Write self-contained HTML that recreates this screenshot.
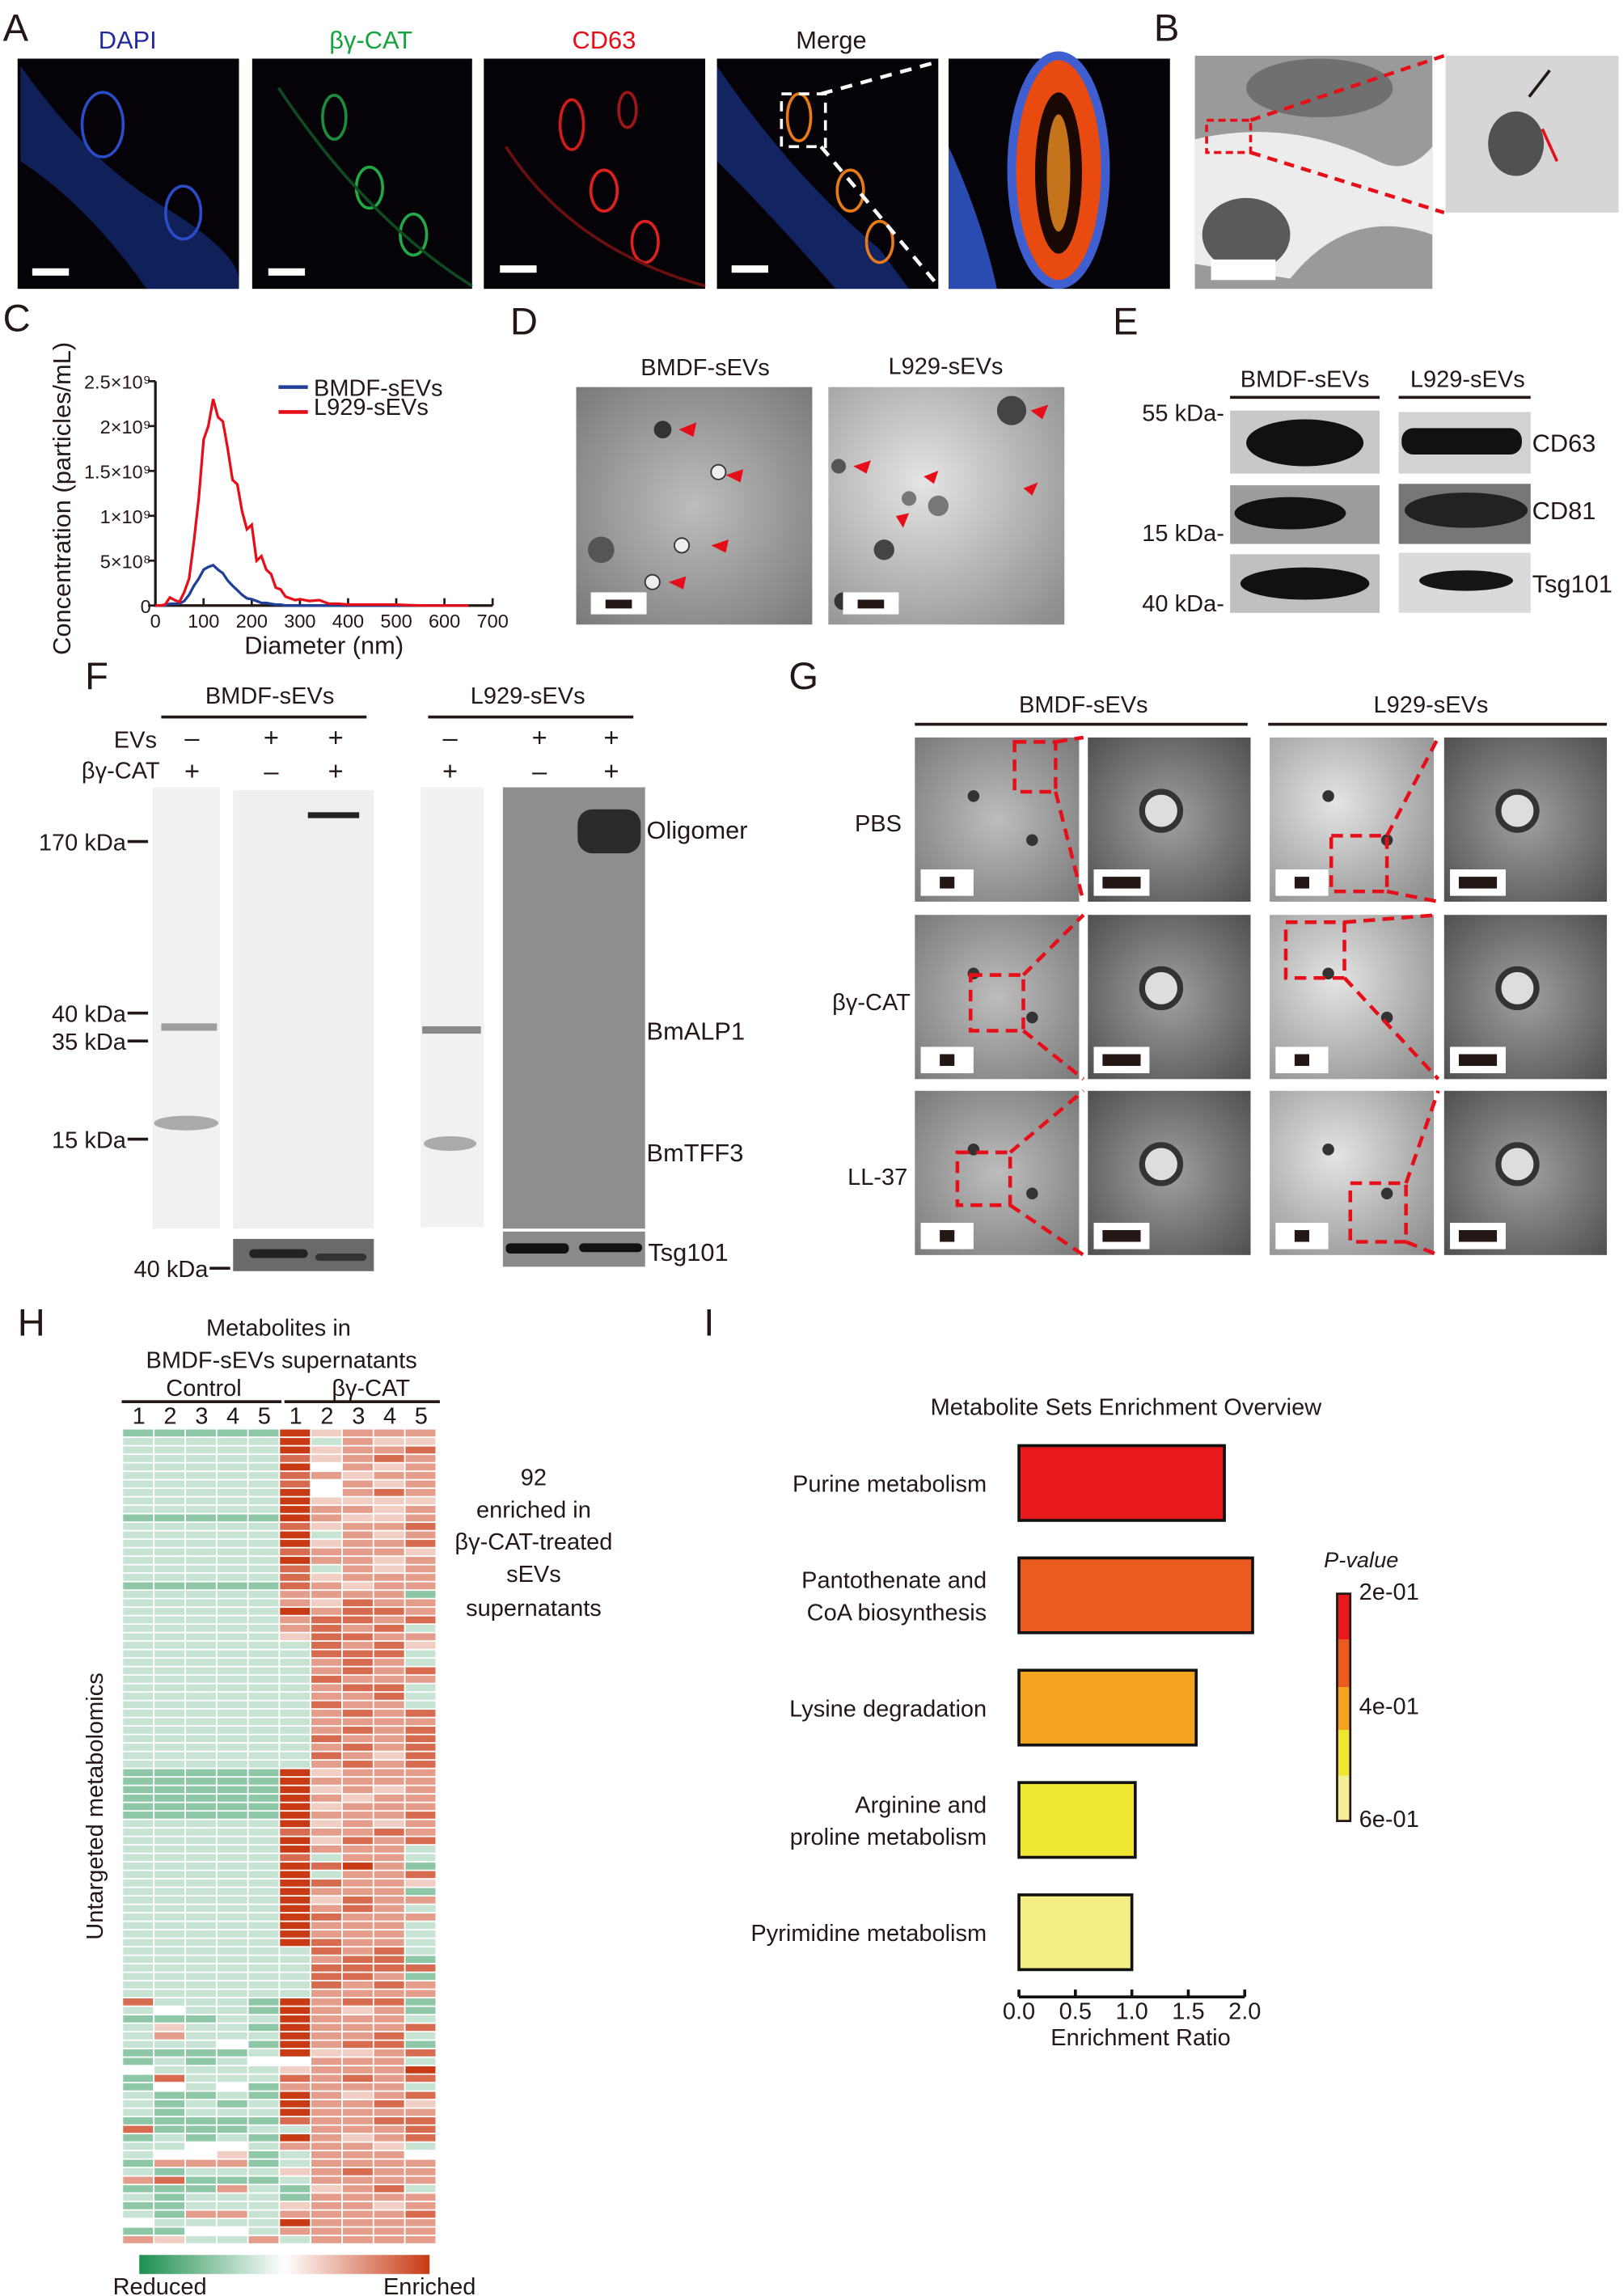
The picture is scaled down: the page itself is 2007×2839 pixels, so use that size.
<!DOCTYPE html>
<html><head><meta charset="utf-8"><style>
html,body{margin:0;padding:0;background:#fff}
svg{display:block}
text{font-family:"Liberation Sans","DejaVu Sans",sans-serif;fill:#231815}
</style></head><body>
<svg id="fig" width="2007" height="2839" viewBox="0 0 1107 1566" preserveAspectRatio="none" xmlns="http://www.w3.org/2000/svg">
<defs>
<radialGradient id="emA" cx="50%" cy="50%" r="70%"><stop offset="0" stop-color="#bdbdbd"/><stop offset="1" stop-color="#7a7a7a"/></radialGradient>
<radialGradient id="emB" cx="40%" cy="40%" r="80%"><stop offset="0" stop-color="#e4e4e4"/><stop offset="1" stop-color="#8d8d8d"/></radialGradient>
<radialGradient id="emC" cx="50%" cy="50%" r="75%"><stop offset="0" stop-color="#a0a0a0"/><stop offset="1" stop-color="#4a4a4a"/></radialGradient>
<linearGradient id="hmbar" x1="0" x2="1"><stop offset="0" stop-color="#1d8f4e"/><stop offset="0.5" stop-color="#ffffff"/><stop offset="1" stop-color="#c83a14"/></linearGradient>
<linearGradient id="pbar" x1="0" y1="0" x2="0" y2="1"><stop offset="0" stop-color="#e8191c"/><stop offset="0.2" stop-color="#e8191c"/><stop offset="0.2" stop-color="#eb5a1e"/><stop offset="0.41" stop-color="#eb5a1e"/><stop offset="0.41" stop-color="#f3a31f"/><stop offset="0.6" stop-color="#f3a31f"/><stop offset="0.6" stop-color="#efe633"/><stop offset="0.8" stop-color="#efe633"/><stop offset="0.8" stop-color="#f5ee94"/><stop offset="1" stop-color="#f5ee94"/></linearGradient>
</defs>

<!-- Panel A -->
<g>
<text x="2" y="28" font-size="26">A</text>
<text x="87" y="33" font-size="17" text-anchor="middle" style="fill:#1f2a9c">DAPI</text>
<text x="253" y="33" font-size="17" text-anchor="middle" style="fill:#13a43c">βγ-CAT</text>
<text x="412" y="33" font-size="17" text-anchor="middle" style="fill:#e60f19">CD63</text>
<text x="567" y="33" font-size="17" text-anchor="middle">Merge</text>
<g><rect x="12" y="40" width="151" height="157" fill="#050308"/>
<path d="M14 45 Q60 110 110 140 T163 190 L163 197 L100 197 Q60 140 14 110Z" fill="#1a3a9c" opacity="0.55"/>
<ellipse cx="70" cy="85" rx="14" ry="22" fill="none" stroke="#2b4cc9" stroke-width="2"/><ellipse cx="125" cy="145" rx="12" ry="18" fill="none" stroke="#2b4cc9" stroke-width="2"/>
<rect x="22" y="183" width="25" height="5" fill="#fff"/></g>
<g><rect x="172" y="40" width="150" height="157" fill="#050308"/>
<ellipse cx="228" cy="80" rx="8" ry="15" fill="none" stroke="#1d8c3c" stroke-width="2"/><ellipse cx="252" cy="128" rx="9" ry="14" fill="none" stroke="#22a844" stroke-width="2"/><ellipse cx="282" cy="160" rx="9" ry="14" fill="none" stroke="#22a844" stroke-width="2"/>
<path d="M190 60 Q250 150 322 195" stroke="#0f4a20" fill="none" stroke-width="2"/>
<rect x="183" y="183" width="25" height="5" fill="#fff"/></g>
<g><rect x="330" y="40" width="151" height="157" fill="#050308"/>
<ellipse cx="390" cy="85" rx="8" ry="17" fill="none" stroke="#d41a1a" stroke-width="2"/><ellipse cx="412" cy="130" rx="9" ry="14" fill="none" stroke="#e02020" stroke-width="2"/><ellipse cx="440" cy="165" rx="9" ry="14" fill="none" stroke="#e02020" stroke-width="2"/><ellipse cx="428" cy="75" rx="6" ry="12" fill="none" stroke="#a01515" stroke-width="2"/>
<path d="M345 100 Q390 170 481 195" stroke="#6a1010" fill="none" stroke-width="2"/>
<rect x="341" y="181" width="25" height="5" fill="#fff"/></g>
<g><rect x="489" y="40" width="151" height="157" fill="#050308"/>
<path d="M489 45 Q540 120 600 170 L620 197 L570 197 Q520 140 489 110Z" fill="#1a3a9c" opacity="0.6"/>
<ellipse cx="545" cy="80" rx="8" ry="16" fill="none" stroke="#e87a1a" stroke-width="2"/><ellipse cx="580" cy="130" rx="9" ry="14" fill="none" stroke="#e87a1a" stroke-width="2"/><ellipse cx="600" cy="165" rx="9" ry="14" fill="none" stroke="#e87a1a" stroke-width="2"/>
<rect x="533" y="64" width="30" height="36" fill="none" stroke="#fff" stroke-width="2" stroke-dasharray="7 5"/>
<line x1="560" y1="64" x2="640" y2="42" stroke="#fff" stroke-width="2.5" stroke-dasharray="8 6"/><line x1="560" y1="100" x2="640" y2="195" stroke="#fff" stroke-width="2.5" stroke-dasharray="8 6"/>
<rect x="499" y="181" width="25" height="5" fill="#fff"/></g>
<g><rect x="647" y="40" width="151" height="157" fill="#050308"/>
<path d="M647 100 Q670 150 680 197 L647 197Z" fill="#2a4bb0"/>
<ellipse cx="722" cy="116" rx="32" ry="78" fill="#e84a10" stroke="#3f5fd0" stroke-width="6"/>
<ellipse cx="722" cy="118" rx="16" ry="55" fill="#1a0805"/>
<ellipse cx="722" cy="118" rx="8" ry="40" fill="#f09020" opacity="0.8"/></g>
</g>

<!-- Panel B -->
<g>
<text x="787" y="28" font-size="26">B</text>
<g><rect x="815" y="38" width="162" height="159" fill="#9a9a9a"/>
<path d="M815 95 Q880 80 940 110 Q960 120 977 100 L977 160 Q920 140 880 190 L815 180Z" fill="#ececec"/>
<ellipse cx="850" cy="160" rx="30" ry="25" fill="#5a5a5a"/><ellipse cx="900" cy="60" rx="50" ry="20" fill="#707070"/>
<rect x="826" y="177" width="44" height="14" fill="#fff"/>
<rect x="823" y="82" width="30" height="22" fill="none" stroke="#e60f19" stroke-width="2" stroke-dasharray="5 3"/>
<line x1="853" y1="82" x2="985" y2="38" stroke="#e60f19" stroke-width="2.5" stroke-dasharray="7 5"/><line x1="853" y1="104" x2="985" y2="145" stroke="#e60f19" stroke-width="2.5" stroke-dasharray="7 5"/></g>
<g><rect x="986" y="38" width="118" height="107" fill="#d6d6d6"/>
<ellipse cx="1034" cy="98" rx="19" ry="22" fill="#3a3a3a" opacity="0.85"/>
<line x1="1057" y1="48" x2="1043" y2="66" stroke="#231815" stroke-width="2"/><line x1="1062" y1="110" x2="1052" y2="88" stroke="#e60f19" stroke-width="2"/></g>
</g>

<!-- Panel C -->
<g id="chartC">
<text x="2" y="226" font-size="26">C</text>
<text transform="translate(48,340) rotate(-90)" font-size="17" text-anchor="middle">Concentration (particles/mL)</text>
<text x="221" y="446" font-size="17" text-anchor="middle">Diameter (nm)</text>
<line x1="190" y1="264" x2="210" y2="264" stroke="#1f3f99" stroke-width="2.5"/>
<text x="214" y="270" font-size="16">BMDF-sEVs</text>
<line x1="190" y1="281" x2="210" y2="281" stroke="#e60f19" stroke-width="2.5"/>
<text x="214" y="283" font-size="16">L929-sEVs</text>
</g>

<!-- Panel D -->
<g>
<text x="348" y="228" font-size="26">D</text>
<text x="481" y="256" font-size="16" text-anchor="middle">BMDF-sEVs</text>
<text x="645" y="255" font-size="16" text-anchor="middle">L929-sEVs</text>
<g><rect x="393" y="264" width="161" height="162" fill="url(#emA)"/>
<circle cx="452" cy="293" r="6" fill="#333"/><circle cx="490" cy="322" r="5" fill="#eee" stroke="#333"/><circle cx="465" cy="372" r="5" fill="#eee" stroke="#333"/><circle cx="445" cy="397" r="5" fill="#eee" stroke="#333"/><circle cx="410" cy="375" r="9" fill="#555"/>
<path d="M475 288 l-12 5 l10 5z M507 320 l-12 4 l10 5z M497 368 l-12 4 l10 5z M468 393 l-12 4 l10 5z" fill="#e60f19"/>
<rect x="403" y="404" width="38" height="15" fill="#fff"/><rect x="413" y="409" width="18" height="6" fill="#231815"/></g>
<g><rect x="565" y="264" width="161" height="162" fill="url(#emB)"/>
<circle cx="690" cy="280" r="10" fill="#444"/><circle cx="572" cy="318" r="5" fill="#555"/><circle cx="620" cy="340" r="5" fill="#777"/><circle cx="640" cy="345" r="7" fill="#777"/><circle cx="603" cy="375" r="7" fill="#444"/><circle cx="575" cy="410" r="6" fill="#333"/>
<path d="M703 280 l12 -4 l-4 10z M582 318 l12 -4 l-3 9z M630 325 l10 -4 l-3 9z M620 350 l-4 10 l-5 -8z M698 333 l10 -4 l-4 9z" fill="#e60f19"/>
<rect x="575" y="404" width="38" height="15" fill="#fff"/><rect x="585" y="409" width="18" height="6" fill="#231815"/></g>
</g>

<!-- Panel E -->
<g>
<text x="759" y="228" font-size="26">E</text>
<text x="890" y="264" font-size="16" text-anchor="middle">BMDF-sEVs</text>
<text x="1001" y="264" font-size="16" text-anchor="middle">L929-sEVs</text>
<line x1="839" y1="271" x2="941" y2="271" stroke="#231815" stroke-width="2"/><line x1="954" y1="271" x2="1044" y2="271" stroke="#231815" stroke-width="2"/>
<text x="835" y="287" font-size="16" text-anchor="end">55 kDa-</text>
<text x="835" y="369" font-size="16" text-anchor="end">15 kDa-</text>
<text x="835" y="417" font-size="16" text-anchor="end">40 kDa-</text>
<g>
<rect x="839" y="280" width="102" height="43" fill="#c8c8c8"/><ellipse cx="890" cy="302" rx="40" ry="16" fill="#111"/>
<rect x="954" y="281" width="90" height="42" fill="#d2d2d2"/><rect x="956" y="292" width="82" height="18" rx="8" fill="#111"/>
<rect x="839" y="331" width="102" height="40" fill="#9c9c9c"/><ellipse cx="880" cy="350" rx="38" ry="11" fill="#111"/>
<rect x="954" y="330" width="90" height="41" fill="#777"/><ellipse cx="1000" cy="348" rx="42" ry="12" fill="#222"/>
<rect x="839" y="378" width="102" height="40" fill="#c0c0c0"/><ellipse cx="890" cy="398" rx="44" ry="11" fill="#111"/>
<rect x="954" y="377" width="90" height="41" fill="#dadada"/><ellipse cx="1000" cy="396" rx="32" ry="7" fill="#151515"/>
</g>
<text x="1045" y="308" font-size="17">CD63</text>
<text x="1045" y="354" font-size="17">CD81</text>
<text x="1045" y="404" font-size="17">Tsg101</text>
</g>

<!-- Panel F -->
<g>
<text x="58" y="470" font-size="26">F</text>
<text x="184" y="480" font-size="16" text-anchor="middle">BMDF-sEVs</text>
<text x="360" y="480" font-size="16" text-anchor="middle">L929-sEVs</text>
<line x1="110" y1="489" x2="250" y2="489" stroke="#231815" stroke-width="2"/><line x1="292" y1="489" x2="432" y2="489" stroke="#231815" stroke-width="2"/>
<text x="107" y="510" font-size="16" text-anchor="end">EVs</text>
<text x="109" y="531" font-size="16" text-anchor="end">βγ-CAT</text>
<g font-size="18" text-anchor="middle">
<text x="131" y="509">–</text><text x="185" y="509">+</text><text x="229" y="509">+</text><text x="307" y="509">–</text><text x="368" y="509">+</text><text x="417" y="509">+</text>
<text x="131" y="532">+</text><text x="185" y="532">–</text><text x="229" y="532">+</text><text x="307" y="532">+</text><text x="368" y="532">–</text><text x="417" y="532">+</text>
</g>
<g>
<rect x="104" y="537" width="46" height="301" fill="#f1f1f1"/><rect x="110" y="698" width="38" height="5" fill="#888" opacity="0.8"/><ellipse cx="127" cy="766" rx="22" ry="5" fill="#aaa"/>
<rect x="159" y="539" width="96" height="299" fill="#efefef"/><rect x="210" y="554" width="35" height="4" fill="#222"/>
<rect x="287" y="537" width="43" height="300" fill="#f1f1f1"/><rect x="288" y="700" width="40" height="5" fill="#888"/><ellipse cx="307" cy="780" rx="18" ry="5" fill="#aaa"/>
<rect x="343" y="537" width="97" height="301" fill="#8e8e8e"/><rect x="394" y="552" width="43" height="30" rx="10" fill="#2a2a2a"/>
<rect x="159" y="845" width="96" height="22" fill="#6a6a6a"/><rect x="170" y="852" width="40" height="6" rx="3" fill="#222"/><rect x="215" y="855" width="35" height="5" rx="3" fill="#333"/>
<rect x="343" y="840" width="97" height="24" fill="#8a8a8a"/><rect x="345" y="848" width="43" height="7" rx="3" fill="#111"/><rect x="395" y="848" width="43" height="6" rx="3" fill="#111"/>
</g>
<text x="86" y="580" font-size="16" text-anchor="end">170 kDa</text><line x1="87" y1="574" x2="101" y2="574" stroke="#231815" stroke-width="2"/>
<text x="86" y="697" font-size="16" text-anchor="end">40 kDa</text><line x1="87" y1="691" x2="101" y2="691" stroke="#231815" stroke-width="2"/>
<text x="86" y="716" font-size="16" text-anchor="end">35 kDa</text><line x1="87" y1="710" x2="101" y2="710" stroke="#231815" stroke-width="2"/>
<text x="86" y="783" font-size="16" text-anchor="end">15 kDa</text><line x1="87" y1="777" x2="101" y2="777" stroke="#231815" stroke-width="2"/>
<text x="142" y="871" font-size="16" text-anchor="end">40 kDa</text><line x1="143" y1="865" x2="157" y2="865" stroke="#231815" stroke-width="2"/>
<text x="441" y="572" font-size="17">Oligomer</text>
<text x="441" y="709" font-size="17">BmALP1</text>
<text x="441" y="792" font-size="17">BmTFF3</text>
<text x="442" y="860" font-size="17">Tsg101</text>
</g>

<!-- Panel G -->
<g id="panelG">
<text x="538" y="470" font-size="26">G</text>
<text x="739" y="486" font-size="16" text-anchor="middle">BMDF-sEVs</text>
<text x="976" y="486" font-size="16" text-anchor="middle">L929-sEVs</text>
<line x1="624" y1="494" x2="851" y2="494" stroke="#231815" stroke-width="2"/><line x1="865" y1="494" x2="1096" y2="494" stroke="#231815" stroke-width="2"/>
<text x="615" y="567" font-size="16" text-anchor="end">PBS</text>
<text x="621" y="689" font-size="16" text-anchor="end">βγ-CAT</text>
<text x="619" y="808" font-size="16" text-anchor="end">LL-37</text>
</g>

<!-- Panel H -->
<g id="panelH">
<text x="12" y="911" font-size="26">H</text>
<text x="190" y="911" font-size="16" text-anchor="middle">Metabolites in</text>
<text x="192" y="933" font-size="16" text-anchor="middle">BMDF-sEVs supernatants</text>
<text x="139" y="952" font-size="16" text-anchor="middle">Control</text>
<text x="253" y="952" font-size="16" text-anchor="middle">βγ-CAT</text>
<line x1="83" y1="956" x2="192" y2="956" stroke="#231815" stroke-width="2"/><line x1="194" y1="956" x2="300" y2="956" stroke="#231815" stroke-width="2"/>
<text transform="translate(70,1232) rotate(-90)" font-size="16" text-anchor="middle">Untargeted metabolomics</text>
<g font-size="16" text-anchor="middle">
<text x="364" y="1013">92</text><text x="364" y="1035">enriched in</text><text x="364" y="1057">βγ-CAT-treated</text><text x="364" y="1079">sEVs</text><text x="364" y="1102">supernatants</text></g>
<rect x="95" y="1538" width="198" height="13" fill="url(#hmbar)"/>
<text x="109" y="1565" font-size="16" text-anchor="middle">Reduced</text>
<text x="293" y="1565" font-size="16" text-anchor="middle">Enriched</text>
</g>

<!-- Panel I -->
<g id="panelI">
<text x="480" y="911" font-size="26">I</text>
<text x="768" y="965" font-size="16" text-anchor="middle">Metabolite Sets Enrichment Overview</text>
<text x="778" y="1395" font-size="16" text-anchor="middle">Enrichment Ratio</text>
<text x="903" y="1069" font-size="15" font-style="italic">P-value</text>
<rect x="912" y="1087" width="9" height="155" fill="url(#pbar)" stroke="#231815" stroke-width="1.5"/>
<text x="927" y="1091" font-size="16">2e-01</text>
<text x="927" y="1169" font-size="16">4e-01</text>
<text x="927" y="1246" font-size="16">6e-01</text>
</g>
</svg>
<script>
// ---------- Panel C data ----------
var cDiam = [0,10,20,30,40,50,60,70,80,90,100,110,120,130,140,150,160,170,180,190,200,210,220,230,240,250,260,270,280,290,300,320,340,360,380,400,450,500,550,600,650];
var cL929 = [0,0,0.01,0.09,0.06,0.04,0.15,0.3,0.72,1.2,1.85,2.0,2.3,2.1,2.05,1.75,1.4,1.35,1.05,0.85,0.9,0.5,0.55,0.4,0.35,0.2,0.18,0.1,0.08,0.06,0.07,0.05,0.06,0.02,0.02,0.01,0.01,0.01,0,0,0];
var cBMDF = [0,0,0,0.02,0.02,0.02,0.05,0.12,0.22,0.3,0.4,0.43,0.45,0.4,0.36,0.28,0.22,0.17,0.12,0.08,0.07,0.05,0.03,0.03,0.02,0.01,0.01,0,0,0,0,0,0,0,0,0,0,0,0,0,0];
var cYTicks = [0,0.5,1,1.5,2,2.5];
var cYLabels = ["0","5×10⁸","1×10⁹","1.5×10⁹","2×10⁹","2.5×10⁹"];
var cXTicks = [0,100,200,300,400,500,600,700];

// ---------- Panel I data ----------
var iCats = [["Purine metabolism"],["Pantothenate and","CoA biosynthesis"],["Lysine degradation"],["Arginine and","proline metabolism"],["Pyrimidine metabolism"]];
var iRatio = [1.82,2.07,1.57,1.03,1.0];
var iPval = [0.2,0.3,0.4,0.5,0.6];
var iXTicks = [0,0.5,1.0,1.5,2.0];

// ---------- Panel H data (digit 0=strong green, 4=white, 8=strong red) ----------
var hRows = [
"2222285666","3333383655","3333385667","3333375676","3333384656",
"3333376566","3333374656","3333384676","3333385555","3333386656",
"2222286556","3333375667","3333383656","3333385667","3333376665",
"3333386656","3333373656","3333375666","2222276566","3333366662",
"3333365766","3333386776","3333367767","3333367673","3333357766",
"3333337675","3333337773","3333336763","3333336767","3333337666",
"3333336773","3333336673","3333337663","3333336767","3333336666",
"3333336767","3333337667","3333336767","3333337657","3333336767",
"2222285666","2222286666","2222285656","2222286566","2222285666",
"2222286667","3333385656","3333376676","3333385767","3333386663",
"3333373663","3333387862","3333383667","3333387665","3333386662",
"3333385766","3333386763","3333387666","3333386663","3333386663",
"3333387663","3333337673","3333336772","3333337777","3333337762",
"3333337676","3333336666","7333286772","3433286562","2223386663",
"3533286667","3633386673","3334286772","2222385567","2323446663",
"4333356668","2733376767","2434266663","3223286567","3232386675",
"3233386666","2222276677","7222336667","2323286567","3344366653",
"3445236664","2666236666","3233356766","6722236666","2226325673",
"3233326666","2233356656","3266366667","4333386666","2244366666",
"6533636666"
];
</script>
<script>
(function(){
var NS="http://www.w3.org/2000/svg";
function mk(tag,attrs,parent){var e=document.createElementNS(NS,tag);for(var k in attrs)e.setAttribute(k,attrs[k]);parent.appendChild(e);return e;}

// ----- Chart C -----
var gC=document.getElementById('chartC');
var cx0=106,cx1=336,cy0=413,cy1=260;
function cX(v){return cx0+(v/700)*(cx1-cx0);}
function cY(v){return cy0-(v/2.5)*(cy0-cy1);}
var ax=mk('path',{d:'M'+cx0+' '+cY(2.5)+' L'+cx0+' '+cy0+' L'+cx1+' '+cy0,stroke:'#231815','stroke-width':1.8,fill:'none'},gC);


cYTicks.forEach(function(t,i){
  mk('line',{x1:cx0-5,x2:cx0,y1:cY(t),y2:cY(t),stroke:'#231815','stroke-width':1.5},gC);
  var tx=mk('text',{x:cx0-3,y:cY(t)+5,'font-size':13,'text-anchor':'end'},gC);
  tx.textContent=cYLabels[i];
  
  
});
cXTicks.forEach(function(t){
  mk('line',{x1:cX(t),x2:cX(t),y1:cy0-5,y2:cy0,stroke:'#231815','stroke-width':1.5},gC);
  var tx=mk('text',{x:cX(t),y:cy0+15,'font-size':13,'text-anchor':'middle'},gC);
  tx.textContent=String(t);
  
  
});
function line(vals,col,name){
  var d=vals.map(function(v,i){return (i?'L':'M')+cX(cDiam[i]).toFixed(1)+' '+cY(v).toFixed(1);}).join(' ');
  var p=mk('path',{d:d,stroke:col,'stroke-width':1.8,fill:'none'},gC);
  
  
}
line(cBMDF,'#1f3f99','bmdf-line');
line(cL929,'#e60f19','l929-line');

// ----- Panel G images -----
var gG=document.getElementById('panelG');
var cols=[[624,112,'emA'],[742,111,'emC'],[866,112,'emB'],[985,111,'emC']];
var rows=[503,624,744];
rows.forEach(function(ry,ri){cols.forEach(function(c,ci){
  var r=mk('rect',{x:c[0],y:ry,width:c[1],height:112,fill:'url(#'+c[2]+')'},gG);
  
  
  if(ci%2==1){mk('circle',{cx:c[0]+50,cy:ry+50,r:13,fill:'#ddd',stroke:'#333','stroke-width':4},gG);}
  else{mk('circle',{cx:c[0]+40,cy:ry+40,r:4,fill:'#333'},gG);mk('circle',{cx:c[0]+80,cy:ry+70,r:4,fill:'#333'},gG);}
  mk('rect',{x:c[0]+4,y:ry+90,width:ci%2?38:36,height:18,fill:'#fff'},gG);
  mk('rect',{x:c[0]+(ci%2?10:17),y:ry+95,width:ci%2?26:10,height:8,fill:'#231815'},gG);
});});
var boxes=[[692,506,28,34],[908,570,38,38],[662,665,36,38],[877,629,40,38],[653,786,36,36],[921,807,38,40]];
boxes.forEach(function(b,i){
  mk('rect',{x:b[0],y:b[1],width:b[2],height:b[3],fill:'none',stroke:'#e60f19','stroke-width':2.5,'stroke-dasharray':'8 5'},gG);
  var tx=cols[(i%2)*2][0]+112;
  mk('line',{x1:b[0]+b[2],y1:b[1],x2:tx+3,y2:rows[Math.floor(i/2)],stroke:'#e60f19','stroke-width':2.5,'stroke-dasharray':'8 5'},gG);
  mk('line',{x1:b[0]+b[2],y1:b[1]+b[3],x2:tx+3,y2:rows[Math.floor(i/2)]+112,stroke:'#e60f19','stroke-width':2.5,'stroke-dasharray':'8 5'},gG);
});

// ----- Heatmap -----
var gH=document.getElementById('panelH');
var hx0=84,hx1=298,hy0=975,hy1=1531;
var nR=hRows.length,cw=(hx1-hx0)/10,rh=(hy1-hy0)/nR;
function hcol(d){
  var t=(d-4)/4;var g=[29,143,78],w=[255,255,255],r=[200,58,20];
  var a=t<0?g:r,k=Math.abs(t);
  return 'rgb('+[0,1,2].map(function(j){return Math.round(w[j]+(a[j]-w[j])*k);}).join(',')+')';
}
hRows.forEach(function(row,ri){for(var ci=0;ci<10;ci++){
  var d=parseInt(row.charAt(ci),10);
  var c=mk('rect',{x:(hx0+ci*cw).toFixed(2),y:(hy0+ri*rh).toFixed(2),width:(cw-1).toFixed(2),height:(rh-1).toFixed(2),fill:hcol(d)},gH);
  
  
}});
for(var ci=0;ci<10;ci++){
  var tx=mk('text',{x:hx0+ci*cw+cw/2,y:971,'font-size':16,'text-anchor':'middle'},gH);
  tx.textContent=String(ci%5+1);
  
  
}

// ----- Panel I -----
var gI=document.getElementById('panelI');
var ix0=695,ix1=849;
function iX(v){return ix0+(v/2.0)*(ix1-ix0);}
var iy0=986,iStep=76.6,bh=51;
function pcol(p){return p<=0.25?'#e8191c':p<=0.35?'#eb5a1e':p<=0.45?'#f3a31f':p<=0.55?'#efe633':'#f5ee84';}
iCats.forEach(function(lbl,i){
  var y=iy0+i*iStep;
  var b=mk('rect',{x:ix0,y:y,width:iX(iRatio[i])-ix0,height:bh,fill:pcol(iPval[i]),stroke:'#111','stroke-width':2},gI);
  
  
  lbl.forEach(function(s,j){
    var t=mk('text',{x:673,y:y+bh/2+6+(j-(lbl.length-1)/2)*22,'font-size':16,'text-anchor':'end'},gI);
    t.textContent=s;
    
    
  });
});
mk('line',{x1:ix0,x2:ix1,y1:1362,y2:1362,stroke:'#111','stroke-width':2},gI);
iXTicks.forEach(function(t){
  mk('line',{x1:iX(t),x2:iX(t),y1:1357,y2:1362,stroke:'#111','stroke-width':2},gI);
  var tx=mk('text',{x:iX(t),y:1377,'font-size':16,'text-anchor':'middle'},gI);
  tx.textContent=t.toFixed(1);
  
  
});
})();
</script>
</body></html>
